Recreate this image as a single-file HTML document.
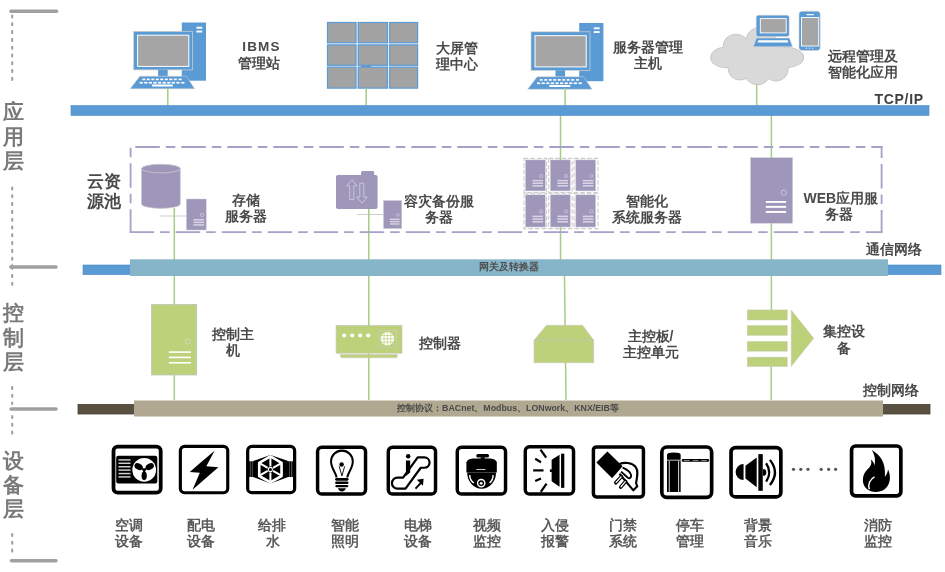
<!DOCTYPE html>
<html><head><meta charset="utf-8">
<style>
html,body{margin:0;padding:0;background:#fff;width:945px;height:572px;overflow:hidden}
svg{display:block;position:absolute;left:0;top:0;will-change:transform}
text{font-family:"Liberation Sans",sans-serif}
.t{font-size:14px;font-weight:bold;fill:#4a4a4a}
.lay{font-size:21px;font-weight:bold;fill:#7a7a7a}
.dl{font-size:14px;font-weight:bold;fill:#5a5a5a}
</style></head>
<body>
<svg width="945" height="572" viewBox="0 0 945 572">
<!-- ===== left layer brackets ===== -->
<g stroke="#a0a0a0" fill="none">
  <line x1="11" y1="11.3" x2="56.5" y2="11.3" stroke-width="3.6" stroke-linecap="round"/>
  <line x1="12.2" y1="15.5" x2="12.2" y2="84" stroke-width="2.1" stroke-dasharray="2 5.8" stroke-linecap="round"/>
  <line x1="12.2" y1="187.5" x2="12.2" y2="262" stroke-width="2.1" stroke-dasharray="2 5.8" stroke-linecap="round"/>
  <line x1="12.2" y1="275" x2="12.2" y2="287" stroke-width="2.1" stroke-dasharray="2 5.8" stroke-linecap="round"/>
  <line x1="11" y1="266.9" x2="56" y2="266.9" stroke-width="3.5" stroke-linecap="round"/>
  <line x1="12.2" y1="387" x2="12.2" y2="404" stroke-width="2.1" stroke-dasharray="2 5.8" stroke-linecap="round"/>
  <line x1="12.2" y1="416" x2="12.2" y2="436" stroke-width="2.1" stroke-dasharray="2 5.8" stroke-linecap="round"/>
  <line x1="11" y1="409" x2="56" y2="409" stroke-width="3.5" stroke-linecap="round"/>
  <line x1="12.2" y1="534" x2="12.2" y2="557" stroke-width="2.1" stroke-dasharray="2 5.8" stroke-linecap="round"/>
  <line x1="11.5" y1="560.7" x2="56" y2="560.7" stroke-width="3.5" stroke-linecap="round"/>
</g>
<path d="M9 266.9 L12.8 263.2 L12.8 270.6 Z" fill="#a0a0a0"/>

<g class="lay">
  <text x="3" y="119">应</text><text x="3" y="144">用</text><text x="3" y="168">层</text>
  <text x="3" y="320">控</text><text x="3" y="345">制</text><text x="3" y="369">层</text>
  <text x="3" y="468">设</text><text x="3" y="492">备</text><text x="3" y="516">层</text>
</g>


<!-- ===== top layer icons ===== -->
<defs>
<g id="pc">
  <rect x="181.8" y="22.5" width="24.2" height="58.2" fill="#5b9bd5"/>
  <rect x="196.4" y="26.8" width="5.8" height="1.9" fill="#fff"/>
  <rect x="196.4" y="30.6" width="5.8" height="1.9" fill="#fff"/>
  <rect x="133.6" y="31.3" width="59" height="38.6" fill="#5b9bd5" stroke="#d9d2c8" stroke-width="0.7"/>
  <rect x="137.6" y="35.2" width="51.2" height="31.2" fill="#a5a5a5" stroke="#fff" stroke-width="1"/>
  <rect x="158.1" y="69.7" width="9.6" height="6.6" fill="#5b9bd5"/>
  <path d="M139.8 76.2 L186.3 76.2 L194.7 88.8 L130.2 88.8 Z" fill="#5b9bd5" stroke="#d9d2c8" stroke-width="0.5"/>
  <g fill="#fff">
    <rect x="142.3" y="78.6" width="3" height="1.6"/><rect x="146.8" y="78.6" width="3" height="1.6"/><rect x="151.3" y="78.6" width="3" height="1.6"/><rect x="155.8" y="78.6" width="3" height="1.6"/><rect x="160.3" y="78.6" width="3" height="1.6"/><rect x="164.8" y="78.6" width="3" height="1.6"/><rect x="169.3" y="78.6" width="3" height="1.6"/><rect x="173.8" y="78.6" width="3" height="1.6"/><rect x="178.6" y="78.6" width="3" height="1.6"/>
    <rect x="139.6" y="81.9" width="3.2" height="1.7"/><rect x="144.2" y="81.9" width="3.2" height="1.7"/><rect x="148.8" y="81.9" width="3.2" height="1.7"/><rect x="153.4" y="81.9" width="3.2" height="1.7"/><rect x="158" y="81.9" width="3.2" height="1.7"/><rect x="162.6" y="81.9" width="3.2" height="1.7"/><rect x="167.2" y="81.9" width="3.2" height="1.7"/><rect x="171.8" y="81.9" width="3.2" height="1.7"/><rect x="176.4" y="81.9" width="3.2" height="1.7"/><rect x="181.2" y="81.9" width="3.2" height="1.7"/>
    <rect x="152" y="84.5" width="20.8" height="2"/>
  </g>
</g>
</defs>
<use href="#pc"/>
<use href="#pc" transform="translate(397.4,0.5)"/>

<!-- video wall -->
<g>
  <rect x="326.9" y="21.9" width="91.3" height="66.8" fill="#e3edf7"/>
  <g fill="#a3a3a3" stroke="#5b9bd5" stroke-width="1.2"><rect x="327.5" y="22.5" width="28.5" height="20.2"/><rect x="358.3" y="22.5" width="29.1" height="20.2"/><rect x="389.7" y="22.5" width="27.9" height="20.2"/><rect x="327.5" y="44.9" width="28.5" height="20.4"/><rect x="358.3" y="44.9" width="29.1" height="20.4"/><rect x="389.7" y="44.9" width="27.9" height="20.4"/><rect x="327.5" y="67.2" width="28.5" height="20.9"/><rect x="358.3" y="67.2" width="29.1" height="20.9"/><rect x="389.7" y="67.2" width="27.9" height="20.9"/></g>
  <rect x="361" y="65.4" width="10" height="1.6" fill="#5b9bd5"/>
</g>

<!-- cloud -->
<g>
  <g fill="#c4c4c4">
    <ellipse cx="726" cy="57.5" rx="15.8" ry="10.7"/>
    <circle cx="736" cy="47" r="13.3"/>
    <circle cx="761" cy="42.5" r="16"/>
    <ellipse cx="785" cy="57.5" rx="19.2" ry="10.7"/>
    <circle cx="740" cy="68" r="12.3"/>
    <circle cx="757.5" cy="71.5" r="13.6"/>
    <circle cx="776" cy="69" r="12.5"/>
    <ellipse cx="758" cy="58" rx="32" ry="17"/>
  </g>
  <g fill="#d9d9d9">
    <ellipse cx="726" cy="57.5" rx="15" ry="9.9"/>
    <circle cx="736" cy="47" r="12.5"/>
    <circle cx="761" cy="42.5" r="15.2"/>
    <ellipse cx="785" cy="57.5" rx="18.4" ry="9.9"/>
    <circle cx="740" cy="68" r="11.5"/>
    <circle cx="757.5" cy="71.5" r="12.8"/>
    <circle cx="776" cy="69" r="11.7"/>
    <ellipse cx="758" cy="58" rx="32" ry="17"/>
  </g>
  <!-- laptop -->
  <rect x="756.2" y="15.2" width="33" height="21.3" rx="2" fill="#5b9bd5" stroke="#e0d8d0" stroke-width="0.5"/>
  <rect x="760.3" y="18.6" width="25.9" height="14.3" fill="#a5a5a5" stroke="#fff" stroke-width="0.9"/>
  <path d="M756.4 38.1 L789.4 38.1 L792.5 46.7 L753.3 46.7 Z" fill="#5b9bd5" stroke="#e0d8d0" stroke-width="0.5"/>
  <path d="M758.4 40.2 L787.6 40.2 L788.4 42.6 L757.6 42.6 Z" fill="#fff"/>
  <!-- phone -->
  <rect x="799" y="11.2" width="21.2" height="39.2" rx="3" fill="#5b9bd5" stroke="#e0d8d0" stroke-width="0.5"/>
  <rect x="801.5" y="17.5" width="17.2" height="28.5" fill="#a5a5a5" stroke="#fff" stroke-width="0.9"/>
  <rect x="806.5" y="13.9" width="7.5" height="1.3" rx="0.6" fill="#fff"/>
  <g fill="#fff"><circle cx="806.5" cy="48.2" r="0.6"/><circle cx="809.6" cy="48.2" r="0.6"/><circle cx="812.7" cy="48.2" r="0.6"/></g>
</g>

<!-- top texts -->
<g class="t">
  <text x="261.5" y="51" text-anchor="middle" style="font-size:13.5px;letter-spacing:1.2px">IBMS</text>
  <text x="259.2" y="67.5" text-anchor="middle">管理站</text>
  <text x="457" y="53" text-anchor="middle">大屏管</text>
  <text x="457" y="69" text-anchor="middle">理中心</text>
  <text x="648" y="52" text-anchor="middle">服务器管理</text>
  <text x="648" y="68" text-anchor="middle">主机</text>
  <text x="828" y="60.5">远程管理及</text>
  <text x="828" y="76.5">智能化应用</text>
</g>


<!-- ===== middle (cloud pool) icons ===== -->
<defs>
<g id="srvs">
  <!-- small purple server, origin top-left 0,0 size 20x31 -->
  <rect x="0" y="0" width="19.8" height="31" fill="#9e97ba" stroke="#cfcbd9" stroke-width="0.5"/>
  <circle cx="15.6" cy="16" r="1.6" fill="none" stroke="#cfc9e0" stroke-width="0.8"/>
  <g fill="#d9d5e6"><rect x="7" y="20" width="10.6" height="1.5"/><rect x="7" y="22.6" width="10.6" height="1.5"/><rect x="7" y="25.2" width="10.6" height="1.5"/></g>
</g>
</defs>
<!-- storage: cylinder -->
<g>
  <path d="M141.5 168.6 L141.5 204 A19.4 4.4 0 0 0 180.3 204 L180.3 168.6 Z" fill="#9e97ba" stroke="#c8c4d0" stroke-width="0.7"/>
  <ellipse cx="160.9" cy="168.6" rx="19.4" ry="4.3" fill="#9e97ba" stroke="#c8c4d0" stroke-width="0.9"/>
</g>
<line x1="160" y1="216" x2="186.4" y2="216" stroke="#c8c8c8" stroke-width="0.9"/>
<use href="#srvs" transform="translate(186.4,199)"/>
<!-- backup: folder -->
<g>
  <path d="M338 174.9 L375.6 174.9 Q377.6 174.9 377.6 176.9 L377.6 207.1 Q377.6 209.1 375.6 209.1 L338 209.1 Q336 209.1 336 207.1 L336 176.9 Q336 174.9 338 174.9 Z" fill="#9e97ba"/>
  <path d="M361 176 L361 172.5 Q361 171 362.5 171 L372.7 171 Q374.2 171 374.2 172.5 L374.2 176 Z" fill="#9e97ba"/>
  <path d="M351.8 179.6 L346.6 185.8 L349.8 185.8 L349.8 199.6 L353.8 199.6 L353.8 185.8 L357 185.8 Z" fill="none" stroke="#d4d0e2" stroke-width="0.8"/>
  <path d="M362 203.2 L356.6 197 L359.8 197 L359.8 183.2 L363.8 183.2 L363.8 197 L367.2 197 Z" fill="none" stroke="#d4d0e2" stroke-width="0.8"/>
</g>
<line x1="357.2" y1="214.5" x2="383.5" y2="214.5" stroke="#c8c8c8" stroke-width="0.9"/>
<g transform="translate(383.5,200.6) scale(0.92,0.9)"><use href="#srvs"/></g>
<!-- server grid -->
<g fill="none" stroke="#cccccc" stroke-width="1.1" stroke-dasharray="4.5 2">
  <rect x="524" y="158.4" width="22.6" height="34.1"/><rect x="548.7" y="158.4" width="23.4" height="34.1"/><rect x="574.1" y="158.4" width="23.9" height="34.1"/>
  <rect x="524" y="193.3" width="22.6" height="35.3"/><rect x="548.7" y="193.3" width="23.4" height="35.3"/><rect x="574.1" y="193.3" width="23.9" height="35.3"/>
</g>
<g>
  <use href="#srvs" transform="translate(525.5,159.9)"/><use href="#srvs" transform="translate(550.4,159.9)"/><use href="#srvs" transform="translate(575.8,159.9)"/>
  <use href="#srvs" transform="translate(525.5,194.8) scale(1,1.04)"/><use href="#srvs" transform="translate(550.4,194.8) scale(1,1.04)"/><use href="#srvs" transform="translate(575.8,194.8) scale(1,1.04)"/>
</g>
<!-- web server -->
<g>
  <rect x="750.6" y="157.7" width="42" height="65.5" fill="#9e97ba" stroke="#cfcbd9" stroke-width="0.5"/>
  <circle cx="783.8" cy="192.7" r="2.6" fill="none" stroke="#d0cce0" stroke-width="0.9"/>
  <g fill="#fff"><rect x="765.8" y="201" width="20.3" height="1.9"/><rect x="765.8" y="205.9" width="20.3" height="1.9"/><rect x="765.8" y="211" width="20.3" height="1.9"/></g>
</g>

<g class="t">
  <text x="103.5" y="187" text-anchor="middle" style="font-size:17px">云资</text>
  <text x="103.5" y="207" text-anchor="middle" style="font-size:17px">源池</text>
  <text x="246.4" y="204.5" text-anchor="middle">存储</text>
  <text x="246.4" y="221" text-anchor="middle">服务器</text>
  <text x="439.3" y="205.5" text-anchor="middle">容灾备份服</text>
  <text x="439.3" y="222" text-anchor="middle">务器</text>
  <text x="647" y="206" text-anchor="middle">智能化</text>
  <text x="647" y="222" text-anchor="middle">系统服务器</text>
  <text x="840.8" y="202.5" text-anchor="middle">WEB应用服</text>
  <text x="838.7" y="218.5" text-anchor="middle">务器</text>
</g>

<!-- ===== green connector lines ===== -->
<g stroke="#a3cd86" stroke-width="1.5" fill="none">
  <line x1="167.8" y1="88" x2="167.8" y2="106"/>
  <line x1="366.2" y1="88" x2="366.2" y2="106"/>
  <line x1="565.1" y1="88" x2="565.1" y2="106"/>
  <line x1="756.7" y1="84" x2="756.7" y2="106"/>
  <line x1="560.5" y1="115" x2="560.5" y2="160"/>
  <line x1="771.4" y1="115" x2="771.4" y2="158"/>
  <line x1="174.3" y1="208" x2="174.3" y2="400"/>
  <line x1="368.8" y1="209" x2="368.8" y2="400"/>
  <line x1="560.5" y1="227" x2="560.5" y2="260"/>
  <line x1="564.5" y1="276" x2="566" y2="400"/>
  <line x1="771.4" y1="223" x2="771.4" y2="310"/>
  <line x1="771.2" y1="366" x2="771.2" y2="400"/>
</g>


<!-- ===== control layer icons ===== -->
<g>
  <rect x="151.5" y="304.4" width="45.2" height="70.6" fill="#bdd07a" stroke="#c4c4bc" stroke-width="0.8"/>
  <circle cx="187.7" cy="341.5" r="2.6" fill="none" stroke="#d8dcc8" stroke-width="0.9"/>
  <g fill="#fff"><rect x="168.8" y="351.3" width="22.2" height="1.6"/><rect x="168.8" y="356.6" width="22.2" height="1.6"/><rect x="168.8" y="362" width="22.2" height="1.6"/></g>
</g>
<g>
  <path d="M340 354.6 L397.7 354.6 L396.8 357.8 L341 357.8 Z" fill="#bdd07a" stroke="#c8c8c0" stroke-width="0.5"/>
  <rect x="336.1" y="325.4" width="65.9" height="27.8" fill="#bdd07a" stroke="#c8c8c0" stroke-width="0.7"/>
  <g fill="#fff"><circle cx="344.2" cy="335.5" r="2.1"/><circle cx="352.3" cy="335.5" r="2.1"/><circle cx="360.2" cy="335.5" r="2.1"/><circle cx="368.2" cy="335.5" r="2.1"/></g>
  <rect x="378.7" y="330.6" width="17.7" height="16.7" fill="none" stroke="#c8ccb8" stroke-width="0.9"/>
  <circle cx="387.4" cy="338.8" r="6.8" fill="#fff"/>
  <g stroke="#bdd07a" stroke-width="0.7" fill="none">
    <line x1="381" y1="335.5" x2="394" y2="335.5"/><line x1="380.6" y1="338.8" x2="394.2" y2="338.8"/><line x1="381" y1="342.1" x2="394" y2="342.1"/>
    <line x1="384.1" y1="332.3" x2="384.1" y2="345.3"/><line x1="387.4" y1="332" x2="387.4" y2="345.6"/><line x1="390.7" y1="332.3" x2="390.7" y2="345.3"/>
  </g>
</g>
<g>
  <path d="M546.6 325.3 L582.6 325.3 L593.7 340.2 L593.7 362.7 L534 362.7 L534 340.2 Z" fill="#bdd07a" stroke="#c8c8c0" stroke-width="0.6"/>
  <line x1="534" y1="340.2" x2="593.7" y2="340.2" stroke="#c8c8c0" stroke-width="0.8"/>
</g>
<g fill="#bdd07a" stroke="#cfcfc4" stroke-width="0.5">
  <rect x="747.2" y="309.9" width="40.1" height="10.1"/>
  <rect x="747.2" y="325.5" width="40.1" height="9.9"/>
  <rect x="747.2" y="341.4" width="40.1" height="9.8"/>
  <rect x="747.2" y="357.1" width="40.1" height="9.5"/>
  <path d="M791.2 309.9 L813.8 338.2 L791.2 366.6 Z"/>
</g>
<g class="t">
  <text x="232.6" y="339" text-anchor="middle">控制主</text>
  <text x="232.6" y="355" text-anchor="middle">机</text>
  <text x="440.1" y="347.5" text-anchor="middle">控制器</text>
  <text x="650.5" y="340.5" text-anchor="middle">主控板/</text>
  <text x="650.7" y="356.5" text-anchor="middle">主控单元</text>
  <text x="843.8" y="336" text-anchor="middle">集控设</text>
  <text x="844.2" y="352.5" text-anchor="middle">备</text>
</g>

<!-- ===== bars ===== -->
<rect x="71" y="105.5" width="858" height="10" fill="#5b9bd5" stroke="#4a8bc9" stroke-width="0.6"/>
<rect x="83" y="265" width="858" height="9.7" fill="#5b9bd5" stroke="#4a8bc9" stroke-width="0.6"/>
<rect x="130" y="259.3" width="758" height="16.7" fill="#86b4c9"/>
<rect x="78" y="404.4" width="852" height="9.6" fill="#585040" stroke="#4a4232" stroke-width="0.8"/>
<rect x="134" y="400.5" width="749" height="16" fill="#b0a890"/>

<text x="874.5" y="104" style="font-size:14px;font-weight:bold;fill:#404040;letter-spacing:0.7px">TCP/IP</text>
<text x="866" y="254" class="t">通信网络</text>
<text x="863" y="395" class="t">控制网络</text>
<text x="509.3" y="270.4" text-anchor="middle" style="font-size:10.2px;font-weight:bold;fill:#505050">网关及转换器</text>
<text x="508" y="410.6" text-anchor="middle" style="font-size:8.8px;font-weight:bold;fill:#4a4a4a">控制协议：BACnet、Modbus、LONwork、KNX/EIB等</text>

<!-- ===== cloud resource dashed box ===== -->
<g stroke="#a7a0c8" stroke-width="1.8" fill="none">
  <line x1="135.3" y1="147" x2="882.4" y2="147" stroke-dasharray="24.5 6 9.5 6"/>
  <line x1="881.6" y1="146.1" x2="881.6" y2="233.1" stroke-dasharray="12 6 24.5 6 9.5 6 40"/>
  <line x1="129.7" y1="232.2" x2="882.4" y2="232.2" stroke-dasharray="24.5 6 9.5 6"/>
  <line x1="130.6" y1="147.7" x2="130.6" y2="233.1" stroke-dasharray="9.5 6 24.5 6"/>
</g>


<!-- ===== device icons ===== -->
<g fill="#000">
<!-- 1 AC -->
<g transform="translate(108,440) scale(0.10489)">
  <rect x="52.5" y="62.5" width="450" height="440" rx="40" fill="none" stroke="#000" stroke-width="36"/>
  <rect x="78" y="150" width="392" height="265" rx="20"/>
  <g fill="#d0d0d0"><rect x="100" y="183" width="115" height="14"/><rect x="100" y="215" width="115" height="14"/><rect x="100" y="248" width="115" height="14"/><rect x="100" y="280" width="115" height="14"/><rect x="100" y="313" width="115" height="14"/><rect x="100" y="345" width="115" height="14"/></g>
  <circle cx="345" cy="285" r="113" fill="#fff"/>
  <ellipse cx="292" cy="254" rx="42" ry="29" transform="rotate(29.5 292 254)"/>
  <ellipse cx="398" cy="254" rx="42" ry="29" transform="rotate(-29.5 398 254)"/>
  <ellipse cx="345" cy="342" rx="25" ry="41"/>
  <g stroke="#000" stroke-width="16"><line x1="345" y1="285" x2="310" y2="265"/><line x1="345" y1="285" x2="380" y2="265"/><line x1="345" y1="285" x2="345" y2="315"/></g>
  <circle cx="345" cy="285" r="16"/>
</g>
<!-- 2 power -->
<g transform="translate(176,441) scale(0.10145)">
  <rect x="43" y="53" width="467" height="457" rx="42" fill="none" stroke="#000" stroke-width="31"/>
  <path d="M380 95 L223 230 L136 306 L235 313 L163 481 L418 258 L299 250 Z"/>
</g>
<!-- 3 water -->
<g transform="translate(243,441) scale(0.10145)">
  <rect x="46" y="54" width="463" height="455" rx="42" fill="none" stroke="#000" stroke-width="32"/>
  <rect x="60" y="200" width="432" height="155"/>
  <g fill="#888"><rect x="74" y="200" width="6" height="155"/><rect x="92" y="200" width="5" height="155"/><rect x="458" y="200" width="5" height="155"/><rect x="476" y="200" width="6" height="155"/></g>
  <path d="M105 195 L270 138 L440 195 L440 357 L270 418 L105 357 Z"/>
  <path d="M270 152 L380 215 L380 345 L270 408 L160 345 L160 215 Z" fill="none" stroke="#fff" stroke-width="26" stroke-linejoin="round"/>
  <g stroke="#fff" stroke-width="20">
    <line x1="270" y1="160" x2="270" y2="400"/>
    <line x1="166" y1="220" x2="374" y2="340"/>
    <line x1="166" y1="340" x2="374" y2="220"/>
  </g>
  <circle cx="270" cy="280" r="30" fill="#000"/>
  <circle cx="270" cy="280" r="20" fill="none" stroke="#fff" stroke-width="10"/>
</g>
<!-- 4 bulb -->
<g transform="translate(312,442) scale(0.1014)">
  <rect x="55" y="52" width="473" height="461" rx="42" fill="none" stroke="#000" stroke-width="34"/>
  <path d="M242 350 C238 300 188 262 188 192 A107 107 0 1 1 402 192 C402 262 352 300 348 350" fill="none" stroke="#000" stroke-width="20"/>
  <rect x="228" y="355" width="132" height="26" rx="13"/>
  <rect x="228" y="390" width="132" height="24" rx="12"/>
  <rect x="230" y="423" width="128" height="24" rx="12"/>
  <path d="M255 455 L335 455 Q325 485 295 487 Q265 485 255 455 Z"/>
  <path d="M268 240 L295 335 L322 240" fill="none" stroke="#000" stroke-width="9"/>
  <circle cx="292" cy="222" r="22"/>
</g>
<!-- 5 escalator -->
<g transform="translate(382,442) scale(0.1014)">
  <rect x="62" y="52" width="466" height="461" rx="42" fill="none" stroke="#000" stroke-width="34"/>
  <path d="M152 352 L208 352 L352 152 L418 152 A51 51 0 0 1 418 254 L382 254 L232 460 L152 460 A54 54 0 0 1 152 352 Z" fill="none" stroke="#000" stroke-width="22" stroke-linejoin="round"/>
  <circle cx="258" cy="140" r="22"/>
  <path d="M236 182 L278 182 L278 300 L236 335 Z"/>
  <line x1="330" y1="460" x2="395" y2="392" stroke="#000" stroke-width="20"/>
  <path d="M343 372 L410 362 L404 432 Z"/>
</g>
<!-- 6 camera -->
<g transform="translate(452,442) scale(0.1014)">
  <rect x="52" y="52" width="476" height="461" rx="42" fill="none" stroke="#000" stroke-width="34"/>
  <rect x="240" y="118" width="125" height="35" rx="15"/>
  <rect x="283" y="150" width="40" height="22"/>
  <path d="M142 200 Q150 168 205 162 L380 162 Q435 168 442 200 L442 302 L142 302 Z"/>
  <path d="M150 300 A142 160 0 0 0 434 300 Z"/>
  <rect x="240" y="266" width="90" height="8" fill="#fff"/>
  <path d="M175 325 Q172 370 215 405" fill="none" stroke="#fff" stroke-width="14"/>
  <path d="M405 325 Q408 370 370 405" fill="none" stroke="#fff" stroke-width="14"/>
  <circle cx="288" cy="405" r="36" fill="none" stroke="#fff" stroke-width="14"/>
  <circle cx="288" cy="408" r="14" fill="#fff"/>
</g>
<!-- 7 intrusion -->
<g transform="translate(520,441) scale(0.1014)">
  <rect x="52" y="57" width="476" height="466" rx="42" fill="none" stroke="#000" stroke-width="34"/>
  <rect x="405" y="125" width="32" height="337"/>
  <path d="M312 185 L390 135 L390 452 L312 398 Z"/>
  <rect x="295" y="280" width="20" height="26"/>
  <g stroke="#000" stroke-width="22" stroke-linecap="butt">
    <line x1="202" y1="85" x2="258" y2="163"/>
    <line x1="150" y1="175" x2="207" y2="210"/>
    <line x1="130" y1="290" x2="232" y2="290"/>
    <line x1="150" y1="395" x2="207" y2="370"/>
    <line x1="205" y1="502" x2="262" y2="420"/>
  </g>
</g>
<!-- 8 access -->
<g transform="translate(588,441) scale(0.10490)">
  <rect x="51.5" y="56.5" width="477" height="477" rx="30" fill="none" stroke="#000" stroke-width="33"/>
  <path d="M80 205 L185 100 L330 240 L230 355 Z"/>
  <path d="M300 220 C345 200 420 205 455 248 C482 285 470 335 458 402 L470 432 L432 470 L300 312" fill="none" stroke="#000" stroke-width="20" stroke-linejoin="round"/>
  <path d="M330 255 C362 268 398 290 410 322 C416 348 396 362 380 350 L315 292" fill="none" stroke="#000" stroke-width="18" stroke-linejoin="round"/>
  <g stroke="#000" stroke-width="34" stroke-linecap="round"><line x1="265" y1="398" x2="318" y2="340"/><line x1="312" y1="440" x2="358" y2="385"/></g>
  <g stroke="#fff" stroke-width="12" stroke-linecap="round"><line x1="268" y1="394" x2="315" y2="343"/><line x1="315" y1="436" x2="355" y2="388"/></g>
</g>
<!-- 9 parking -->
<g transform="translate(656,441) scale(0.10490)">
  <rect x="55.5" y="57.5" width="475" height="480" rx="48" fill="none" stroke="#000" stroke-width="35"/>
  <path d="M105 178 L105 130 Q105 110 170 110 Q235 110 235 130 L235 178 Z"/>
  <rect x="105" y="186" width="130" height="300"/>
  <g fill="#fff"><rect x="122" y="190" width="8" height="296"/><rect x="212" y="190" width="8" height="296"/></g>
  <rect x="245" y="171" width="262" height="27" rx="13"/>
  <g fill="#ccc"><rect x="265" y="182" width="55" height="6"/><rect x="350" y="182" width="55" height="6"/><rect x="430" y="182" width="55" height="6"/></g>
</g>
<!-- 10 speaker -->
<g transform="translate(725,441) scale(0.10490)">
  <rect x="57.5" y="62.5" width="475" height="470" rx="42" fill="none" stroke="#000" stroke-width="35"/>
  <path d="M177 220 A76 76 0 0 0 177 372 Z"/>
  <path d="M195 235 L302 158 L302 442 L195 357 Z"/>
  <rect x="318" y="125" width="42" height="350"/>
  <path d="M362 268 A32 32 0 0 1 362 332 Z"/>
  <path d="M392 212 Q452 300 392 388" fill="none" stroke="#000" stroke-width="22"/>
  <path d="M428 180 Q525 300 428 420" fill="none" stroke="#000" stroke-width="22"/>
</g>
<!-- 11 fire -->
<g transform="translate(845,440) scale(0.10490)">
  <rect x="62.5" y="57.5" width="470" height="475" rx="38" fill="none" stroke="#000" stroke-width="35"/>
  <path d="M255 95 C335 140 392 215 380 350 C400 330 408 305 410 280 C445 355 432 445 360 482 C300 508 232 492 200 460 C158 415 160 335 212 282 C242 252 262 228 245 185 C282 212 288 250 275 272 C292 210 292 150 255 95 Z"/>
  <path d="M282 352 C240 372 215 420 232 470" fill="none" stroke="#fff" stroke-width="14"/>
</g>
</g>
<g fill="#555"><circle cx="793.5" cy="469.3" r="1.6"/><circle cx="800.8" cy="469.3" r="1.6"/><circle cx="808" cy="469.3" r="1.6"/><circle cx="821.2" cy="469.3" r="1.6"/><circle cx="828.6" cy="469.3" r="1.6"/><circle cx="835.6" cy="469.3" r="1.6"/></g>
<g class="dl" text-anchor="middle">
  <text x="129.4" y="530">空调</text><text x="129.4" y="546">设备</text>
  <text x="200.7" y="530">配电</text><text x="200.7" y="546">设备</text>
  <text x="272" y="530">给排</text><text x="272.5" y="546">水</text>
  <text x="345.4" y="530">智能</text><text x="345.4" y="546">照明</text>
  <text x="417.5" y="530">电梯</text><text x="417.5" y="546">设备</text>
  <text x="487.1" y="530">视频</text><text x="487.1" y="546">监控</text>
  <text x="555.4" y="530">入侵</text><text x="555.4" y="546">报警</text>
  <text x="622.9" y="530">门禁</text><text x="622.9" y="546">系统</text>
  <text x="690.4" y="530">停车</text><text x="690.4" y="546">管理</text>
  <text x="757.8" y="530">背景</text><text x="757.8" y="546">音乐</text>
  <text x="877.9" y="530">消防</text><text x="877.9" y="546">监控</text>
</g>

</svg>
</body></html>
